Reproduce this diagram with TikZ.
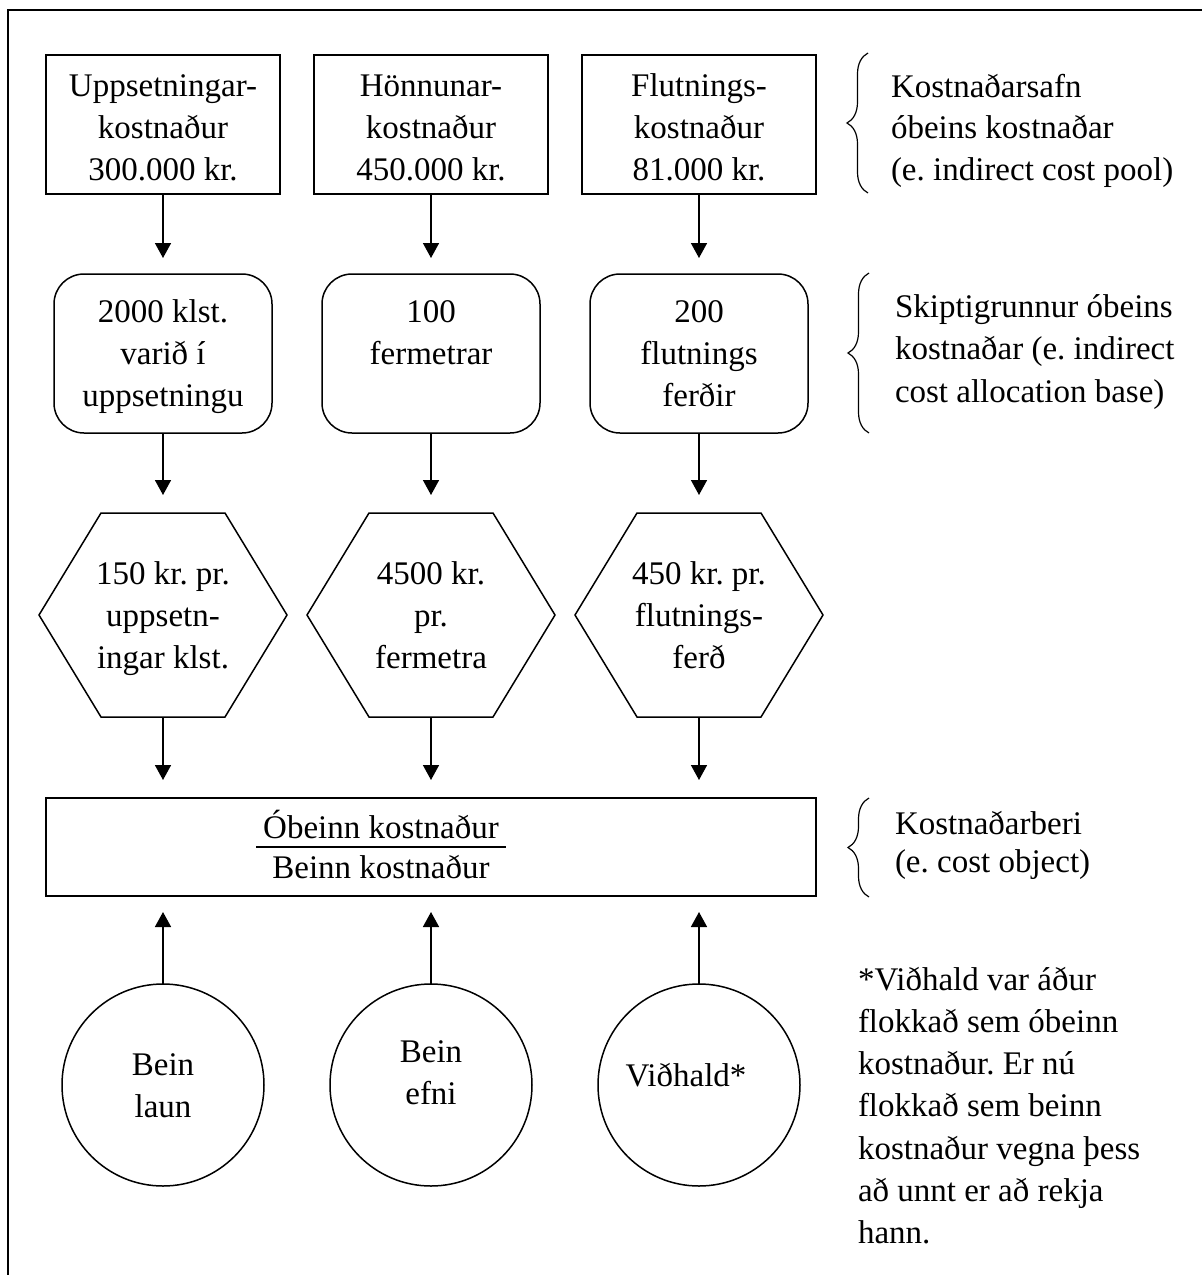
\documentclass[tikz,border=0pt]{standalone}
\usepackage{fontspec}
\setmainfont{Liberation Serif}
\usetikzlibrary{arrows.meta,decorations.pathreplacing}
\frenchspacing
\newcommand\mlc[2][42pt]{\vtop{\baselineskip=#1\halign{\hfil##\hfil\cr#2\crcr}}}
\newcommand\mll[2][42pt]{\vtop{\baselineskip=#1\halign{##\hfil\cr#2\crcr}}}
\begin{document}
\begin{tikzpicture}[x=1pt,y=-1pt,
  every node/.style={inner sep=0pt, outer sep=0pt},
  txt/.style={font=\fontsize{33pt}{42pt}\selectfont\frenchspacing, anchor=base},
  ltxt/.style={font=\fontsize{33pt}{42pt}\selectfont\frenchspacing, anchor=base west},
  box/.style={draw, line width=1.5pt, minimum width=234pt, minimum height=139pt},
  rbox/.style={draw, line width=1.5pt, rounded corners=30pt, minimum width=218pt, minimum height=159pt},
  hexb/.style={minimum width=248pt, minimum height=204pt},
  circ/.style={draw, circle, line width=1.5pt, minimum size=202pt},
  bigbox/.style={draw, line width=1.5pt, minimum width=770pt, minimum height=98pt},
  arr/.style={line width=1.6pt, -{Triangle[width=16pt,length=15pt]}},
  brc/.style={decorate, decoration={brace, amplitude=21pt}, line width=1.2pt},
  hexline/.style={line width=1.5pt},
]
\useasboundingbox (0,0) rectangle (1202,1275);
% outer frame
\draw[line width=1.5pt] (1202,10) -- (8,10) -- (8,1275);

% row 1: cost pools
\node[box] (b1) at (163,124.5) {};
\node[box] (b2) at (431,124.5) {};
\node[box] (b3) at (699,124.5) {};
\node[txt] (tb1) at (163,96) {\mlc{Uppsetningar-\cr kostnaður\cr 300.000 kr.}};
\node[txt] (tb2) at (431,96) {\mlc{Hönnunar-\cr kostnaður\cr 450.000 kr.}};
\node[txt] (tb3) at (699,96) {\mlc{Flutnings-\cr kostnaður\cr 81.000 kr.}};

% row 2: allocation bases
\node[rbox] (r1) at (163,353.5) {};
\node[rbox] (r2) at (431,353.5) {};
\node[rbox] (r3) at (699,353.5) {};
\node[txt] (tr1) at (163,322) {\mlc{2000 klst.\cr varið í\cr uppsetningu}};
\node[txt] (tr2) at (431,322) {\mlc{100\cr fermetrar}};
\node[txt] (tr3) at (699,322) {\mlc{200\cr flutnings\cr ferðir}};

% row 3: rates (hexagons)
\node[hexb] (h1) at (163,615) {};
\node[hexb] (h2) at (431,615) {};
\node[hexb] (h3) at (699,615) {};
\foreach \h in {h1,h2,h3}
  \draw[hexline] (\h.west) -- ([xshift=62pt]\h.north west) -- ([xshift=-62pt]\h.north east)
    -- (\h.east) -- ([xshift=-62pt]\h.south east) -- ([xshift=62pt]\h.south west) -- cycle;
\node[txt] (th1) at (163,584) {\mlc{150 kr. pr.\cr uppsetn-\cr ingar klst.}};
\node[txt] (th2) at (431,584) {\mlc{4500 kr.\cr pr.\cr fermetra}};
\node[txt] (th3) at (699,584) {\mlc{450 kr. pr.\cr flutnings-\cr ferð}};

% row 4: cost object
\node[bigbox] (cost) at (431,847) {};
\node[txt] (f1) at (381,838) {Óbeinn kostnaður};
\node[txt] (f2) at (381,878) {Beinn kostnaður};
\coordinate (fl) at (256,847);
\coordinate (fr) at (506,847);
\draw[line width=1.5pt] (fl) -- (fr);

% row 5: direct costs
\node[circ] (c1) at (163,1085) {};
\node[circ] (c2) at (431,1085) {};
\node[circ] (c3) at (699,1085) {};
\node[txt] (tc1) at (163,1075) {\mlc{Bein\cr laun}};
\node[txt] (tc2) at (431,1062) {\mlc{Bein\cr efni}};
\node[txt] (tc3) at (686,1086) {Viðhald*};

% arrows
\foreach \i in {1,2,3} {
  \draw[arr, shorten >=16pt] (b\i.south) -- (r\i.north);
  \draw[arr, shorten >=18pt] (r\i.south) -- (h\i.north);
  \draw[arr, shorten >=18pt] (h\i.south) -- (h\i.south |- cost.north);
  \draw[arr, shorten >=16pt] (c\i.north) -- (c\i.north |- cost.south);
}

% braces and side labels
\draw[brc] (868,193) -- (868,53);
\draw[brc] (869,433) -- (869,273);
\draw[brc] (869,897) -- (869,798);
\node[ltxt] (s1) at (891,97) {\mll[41.5pt]{Kostnaðarsafn\cr óbeins kostnaðar\cr (e. indirect cost pool)}};
\node[ltxt] (s2) at (895,317) {\mll[42.5pt]{Skiptigrunnur óbeins\cr kostnaðar (e. indirect\cr cost allocation base)}};
\node[ltxt] (s3) at (895,834) {\mll[38pt]{Kostnaðarberi\cr (e. cost object)}};
\node[ltxt] (note) at (858,990) {\mll[42.3pt]{*Viðhald var áður\cr flokkað sem óbeinn\cr kostnaður. Er nú\cr flokkað sem beinn\cr kostnaður vegna þess\cr að unnt er að rekja\cr hann.}};
\end{tikzpicture}
\end{document}
